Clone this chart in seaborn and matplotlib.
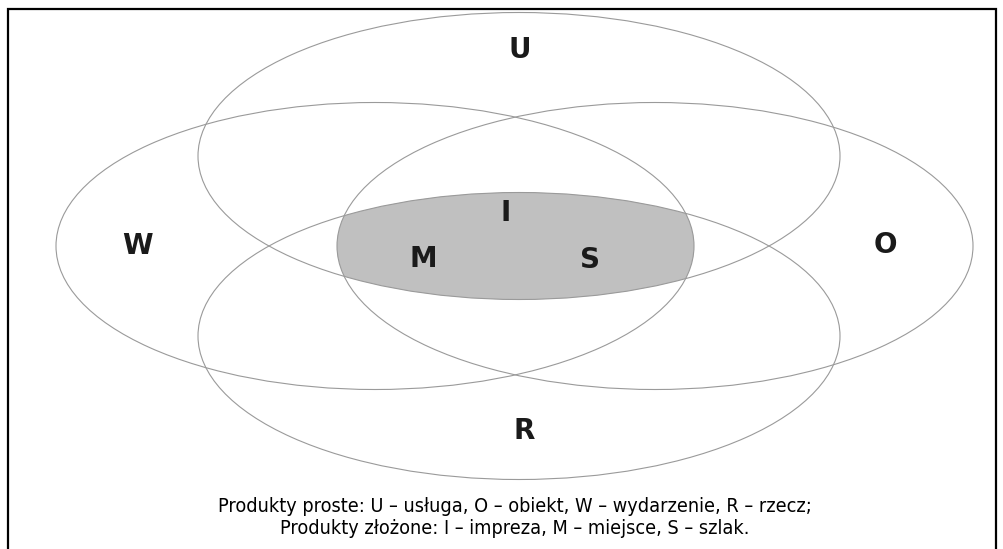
import numpy as np
import seaborn as sns
import matplotlib.pyplot as plt
from matplotlib.patches import Ellipse

sns.set_theme(style="white")

# Zbiory produktów prostych (środek x, środek y, szerokość, wysokość) w pikselach obrazu
set_names = ["U", "W", "O", "R"]
set_cx = [519, 375, 655, 519]
set_cy = [156, 246, 246, 336]
set_w = [642, 638, 636, 642]
set_h = [287, 287, 287, 287]

# Etykiety zbiorów
label_text = ["U", "W", "O", "R", "I", "M", "S"]
label_x = [520, 137, 885, 524, 506, 423, 590]
label_y = [50, 246, 245, 431, 213, 259, 260]

caption = ["Produkty proste: U – usługa, O – obiekt, W – wydarzenie, R – rzecz;",
           "Produkty złożone: I – impreza, M – miejsce, S – szlak."]

fig = plt.figure(figsize=(10.04, 5.49), dpi=100)
ax = fig.add_axes([0, 0, 1, 1])
ax.set_xlim(0, 1004)
ax.set_ylim(549, 0)
ax.axis("off")

# Część wspólna wszystkich zbiorów - szare pole
xx, yy = np.meshgrid(np.linspace(0, 1004, 1500), np.linspace(0, 549, 900))
dist = np.zeros_like(xx)
for cx, cy, w, h in zip(set_cx, set_cy, set_w, set_h):
    d = ((xx - cx) / (w / 2)) ** 2 + ((yy - cy) / (h / 2)) ** 2
    dist = np.maximum(dist, d)
ax.contourf(xx, yy, dist, levels=[0, 1], colors=["#c0c0c0"], antialiased=True)

for cx, cy, w, h in zip(set_cx, set_cy, set_w, set_h):
    ax.add_patch(Ellipse((cx, cy), w, h, fill=False, edgecolor="#9a9a9a", linewidth=0.8))

for t, x, y in zip(label_text, label_x, label_y):
    ax.text(x, y, t, ha="center", va="center", fontsize=20, color="#1a1a1a",
            family=["DejaVu Sans"], fontweight="bold")

ax.text(515, 507, caption[0], ha="center", va="center", fontsize=14.2, color="black",
        family=["DejaVu Sans"], fontstretch="condensed")
ax.text(515, 528, caption[1], ha="center", va="center", fontsize=14.2, color="black",
        family=["DejaVu Sans"], fontstretch="condensed")

# Ramka
ax.plot([8, 8, 996, 996], [560, 9, 9, 560], color="black", linewidth=1.6, solid_joinstyle="miter")

fig.savefig("out.png", dpi=100)
